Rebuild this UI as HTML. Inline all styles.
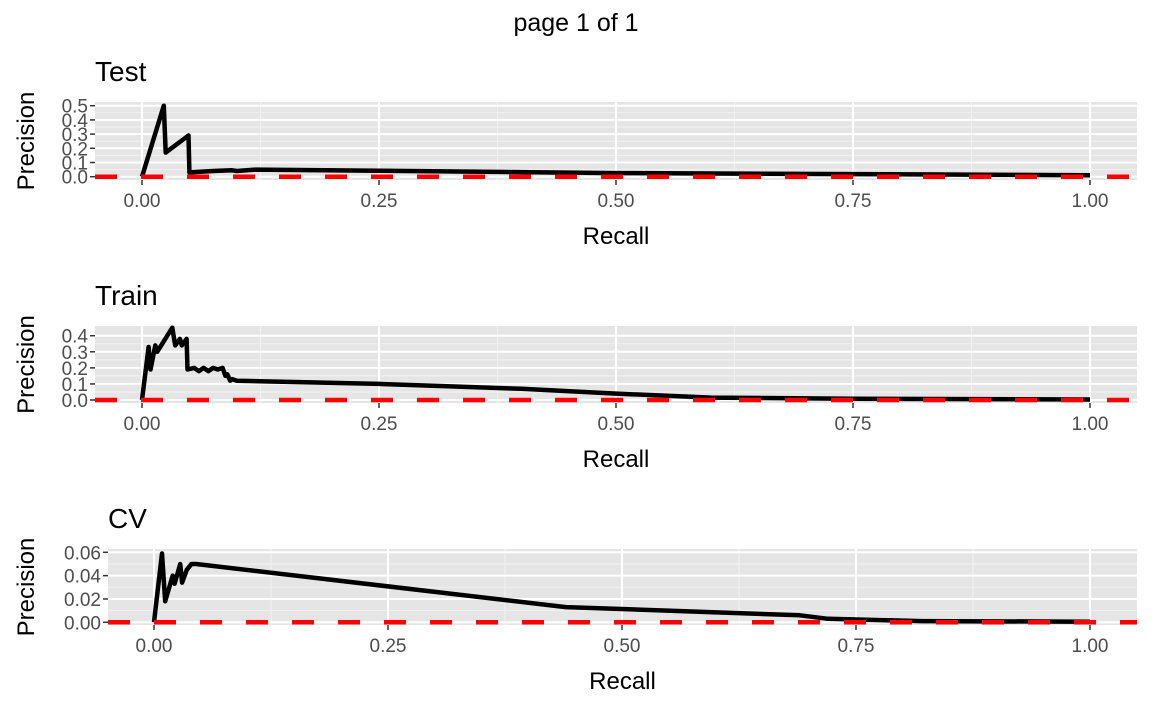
<!DOCTYPE html>
<html><head><meta charset="utf-8"><style>
body{margin:0;background:#fff}
svg{display:block;font-family:"Liberation Sans",sans-serif}
</style></head><body>
<svg id="chart" width="1152" height="711" viewBox="0 0 1152 711">
<text x="576" y="31" text-anchor="middle" font-size="25">page 1 of 1</text>
</svg>
<script>
const xTicks=[0,0.25,0.5,0.75,1];
const xTickLabels=["0.00","0.25","0.50","0.75","1.00"];
const testRecall=[0,0.023,0.025,0.049,0.05,0.075,0.095,0.1,0.12,0.25,0.5,0.75,1];
const testPrecision=[0,0.5,0.17,0.29,0.03,0.04,0.045,0.04,0.05,0.042,0.025,0.018,0.01];
const testYTicks=[0,0.1,0.2,0.3,0.4,0.5];
const testYLabels=["0.0","0.1","0.2","0.3","0.4","0.5"];
const trainRecall=[0,0.007,0.009,0.014,0.016,0.032,0.035,0.04,0.042,0.047,0.048,0.055,0.06,0.065,0.07,0.075,0.08,0.085,0.088,0.09,0.093,0.095,0.1,0.25,0.4,0.5,0.6,0.75,1];
const trainPrecision=[0,0.33,0.19,0.34,0.3,0.45,0.34,0.38,0.34,0.38,0.19,0.2,0.18,0.2,0.18,0.2,0.19,0.2,0.15,0.16,0.12,0.13,0.12,0.1,0.07,0.04,0.015,0.008,0.003];
const trainYTicks=[0,0.1,0.2,0.3,0.4];
const trainYLabels=["0.0","0.1","0.2","0.3","0.4"];
const cvRecall=[0,0.0085,0.012,0.02,0.022,0.028,0.03,0.035,0.04,0.045,0.44,0.69,0.72,0.82,1];
const cvPrecision=[0,0.059,0.018,0.04,0.033,0.05,0.034,0.045,0.05,0.05,0.013,0.006,0.003,0.001,0.0005];
const cvYTicks=[0,0.02,0.04,0.06];
const cvYLabels=["0.00","0.02","0.04","0.06"];
const baseline=0;

const NS="http://www.w3.org/2000/svg";
const svg=document.getElementById('chart');
function mk(tag,attrs,parent){const e=document.createElementNS(NS,tag);for(const k in attrs)e.setAttribute(k,attrs[k]);(parent||svg).appendChild(e);return e;}

function panel(cfg){
  const g=mk('g',{});
  
  
  const L=cfg.left,R=cfg.right,T=cfg.top,B=cfg.bottom;
  const xs=v=>cfg.x0+v*(cfg.x1-cfg.x0);
  const ys=v=>cfg.y0-v*cfg.yScale;
  mk('rect',{x:L,y:T,width:R-L,height:B-T,fill:'#e5e5e5'},g);
  for(let i=0;i<cfg.yTicks.length-1;i++){const m=(cfg.yTicks[i]+cfg.yTicks[i+1])/2;mk('line',{x1:L,x2:R,y1:ys(m),y2:ys(m),stroke:'#f2f2f2','stroke-width':1},g);}
  for(let i=0;i<xTicks.length-1;i++){const m=(xTicks[i]+xTicks[i+1])/2;mk('line',{x1:xs(m),x2:xs(m),y1:T,y2:B,stroke:'#f2f2f2','stroke-width':1},g);}
  cfg.yTicks.forEach((t,i)=>{
    mk('line',{x1:L,x2:R,y1:ys(t),y2:ys(t),stroke:'#fff','stroke-width':2},g);
    mk('line',{x1:L-5,x2:L,y1:ys(t),y2:ys(t),stroke:'#333','stroke-width':1.5},g);
    const tx=mk('text',{x:L-7,y:ys(t)+7,'text-anchor':'end','font-size':19,fill:'#4d4d4d'},g);
    tx.textContent=cfg.yLabels[i];
    
    
  });
  xTicks.forEach((t,i)=>{
    mk('line',{x1:xs(t),x2:xs(t),y1:T,y2:B,stroke:'#fff','stroke-width':2},g);
    mk('line',{x1:xs(t),x2:xs(t),y1:B,y2:B+5,stroke:'#333','stroke-width':1.5},g);
    const tx=mk('text',{x:xs(t),y:B+27,'text-anchor':'middle','font-size':19,fill:'#4d4d4d'},g);
    tx.textContent=xTickLabels[i];
    
    
  });
  const pts=cfg.rx.map((r,i)=>xs(r).toFixed(1)+','+ys(cfg.py[i]).toFixed(1)).join(' ');
  const pl=mk('polyline',{points:pts,fill:'none',stroke:'#000','stroke-width':4.5,'stroke-linejoin':'round'},g);
  
  
  const bl=mk('line',{x1:L,x2:R,y1:ys(baseline),y2:ys(baseline),stroke:'#ff0000','stroke-width':4.5,'stroke-dasharray':'22 24'},g);
  
  
  const ti=mk('text',{x:cfg.titleX,y:T-21,'font-size':28},g);
  ti.textContent=cfg.title;
  
  
  const xt=mk('text',{x:(L+R)/2,y:B+64,'text-anchor':'middle','font-size':24},g);
  xt.textContent='Recall';
  
  
  const cy=(T+B)/2;
  const yt=mk('text',{x:0,y:0,'text-anchor':'middle','font-size':24,transform:'translate(34,'+cy+') rotate(-90)'},g);
  yt.textContent='Precision';
  
  
}
panel({name:'test',title:'Test',titleX:95,left:95,right:1137,top:102,bottom:180,x0:142,x1:1090,y0:176.7,yScale:142,yTicks:testYTicks,yLabels:testYLabels,rx:testRecall,py:testPrecision});
panel({name:'train',title:'Train',titleX:95,left:95,right:1137,top:326,bottom:403,x0:142,x1:1090,y0:400,yScale:160.7,yTicks:trainYTicks,yLabels:trainYLabels,rx:trainRecall,py:trainPrecision});
panel({name:'cv',title:'CV',titleX:108,left:108,right:1137,top:549,bottom:625,x0:154,x1:1090,y0:622.3,yScale:1166.7,yTicks:cvYTicks,yLabels:cvYLabels,rx:cvRecall,py:cvPrecision});
</script>
</body></html>
